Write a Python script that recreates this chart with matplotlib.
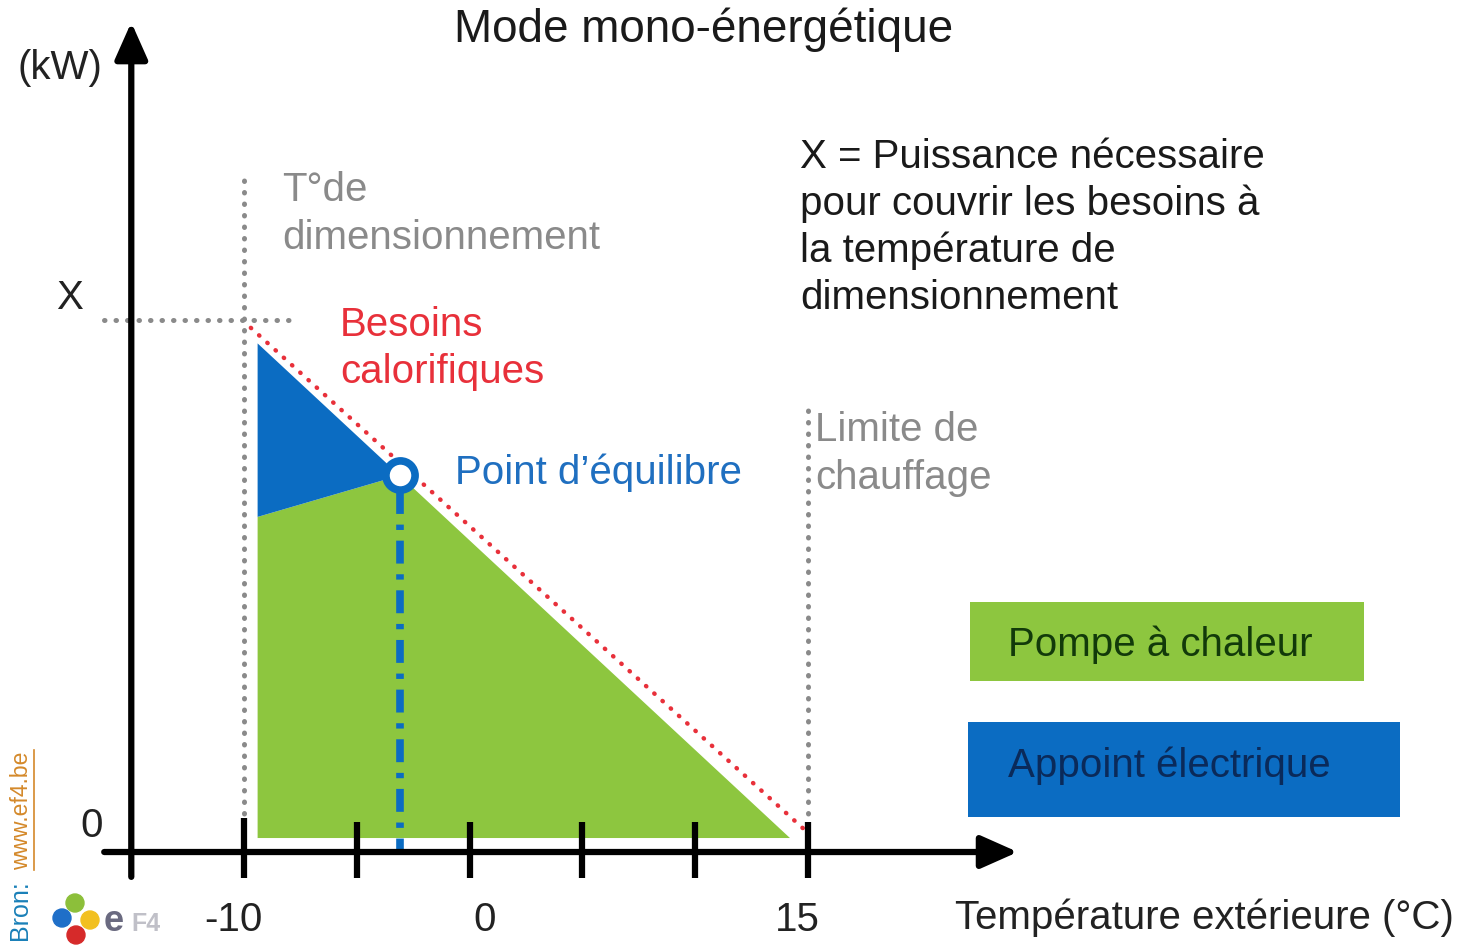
import matplotlib.pyplot as plt
from matplotlib.patches import Rectangle, Circle
from matplotlib.lines import Line2D

# Data (temperature in °C, power in arbitrary kW units, X = 10)
ticks_T = [-10, -5, 0, 5, 10, 15]
tick_labels = ["-10", "0", "15"]
demand_T = [-9.7, 15.0]
demand_kW = [9.85, 0.1]
pac_T = [-9.4, -9.4, -3.1, 14.2]
pac_kW = [0.0, 6.2, 7.0, 0.0]
appoint_T = [-9.4, -9.4, -3.1]
appoint_kW = [9.55, 6.2, 7.0]
equil_T, equil_kW = -3.1, 7.0
dim_T, limit_T, X_kW = -10, 15, 10

GREEN = '#8dc63f'
BLUE = '#0b6cc2'
RED = '#e8303a'
GRAY = '#8a8a8a'

W, H = 1464, 947
plt.rcParams['font.family'] = ['Liberation Sans', 'DejaVu Sans']
fig = plt.figure(figsize=(W / 100, H / 100), dpi=100)
ax = fig.add_axes([0, 0, 1, 1])
ax.set_xlim(-20.82, 44.08)
ax.set_ylim(-2.104, 16.18)
ax.axis('off')


def fx(x):
    return x / W


def fy(y):
    return 1 - y / H


# filled areas
ax.fill(pac_T, pac_kW, color=GREEN, lw=0, zorder=1)
ax.fill(appoint_T, appoint_kW, color=BLUE, lw=0, zorder=1)

# dotted reference lines
dots = dict(color=GRAY, lw=3.6, linestyle=(0, (0.1, 2.2)), dash_capstyle='round', zorder=2)
ax.plot([dim_T, dim_T], [-0.2, 12.9], **dots)
ax.plot([-16.2, -7.6], [X_kW, X_kW], **dots)
ax.plot([limit_T, limit_T], [-0.2, 8.3], **dots)

# heating demand
ax.plot(demand_T, demand_kW, color=RED, lw=3.2, linestyle=(0, (0.1, 2.4)),
        dash_capstyle='round', zorder=3)

# equilibrium point
ax.plot([equil_T, equil_T], [equil_kW - 0.3, -0.27], color=BLUE, lw=5.5,
        linestyle=(0, (3, 1.4, 0.7, 1.4)), zorder=3)
ax.plot([equil_T], [equil_kW], 'o', ms=21, mfc='white', mec=BLUE, mew=5.5, zorder=4)

# axes with arrows
arrow = dict(arrowstyle='-|>,head_length=0.9,head_width=0.4', mutation_scale=25,
             lw=4.5, color='black', shrinkA=0, shrinkB=0)
ax.annotate('', xy=(-15, 15.75), xytext=(-15, -0.75), arrowprops=arrow, zorder=5)
ax.annotate('', xy=(24.3, -0.27), xytext=(-16.2, -0.27), arrowprops=arrow, zorder=5)
for t in ticks_T:
    top = 0.39 if t == dim_T else 0.31
    ax.plot([t, t], [top, -0.77], color='black', lw=4.5, solid_capstyle='butt', zorder=5)

fs = 29
# axis labels
fig.text(fx(704), fy(30), "Mode mono-énergétique", fontsize=33, ha='center', va='center',
         color='#1a1a1a')
fig.text(fx(60), fy(68), "(kW)", fontsize=fs, ha='center', va='center', color='#222222')
fig.text(fx(70), fy(298), "X", fontsize=fs, ha='center', va='center', color='#222222')
fig.text(fx(92), fy(826), "0", fontsize=fs, ha='center', va='center', color='#222222')
for px, lab in zip([233, 485, 797], tick_labels):
    fig.text(fx(px), fy(920), lab, fontsize=fs, ha='center', va='center', color='#222222')
fig.text(fx(955), fy(918), "Température extérieure (°C)", fontsize=fs, ha='left',
         va='center', color='#222222')

# annotations
for i, line in enumerate(["T°de", "dimensionnement"]):
    fig.text(fx(282), fy(190 + 48 * i), line, fontsize=fs, color=GRAY, va='center')
for i, line in enumerate(["Besoins", "calorifiques"]):
    fig.text(fx(340), fy(325 + 47 * i), line, fontsize=fs, color=RED, va='center')
fig.text(fx(455), fy(473), "Point d’équilibre", fontsize=fs, color='#1f6fc0', va='center')
for i, line in enumerate(["Limite de", "chauffage"]):
    fig.text(fx(815), fy(430 + 48 * i), line, fontsize=fs, color=GRAY, va='center')
x_lines = ["X = Puissance nécessaire", "pour couvrir les besoins à",
           "la température de", "dimensionnement"]
for i, line in enumerate(x_lines):
    fig.text(fx(800), fy(157 + 47 * i), line, fontsize=fs, color='#1a1a1a', va='center')

# legend boxes
fig.add_artist(Rectangle((fx(970), fy(681)), fx(394), 79 / H, transform=fig.transFigure,
                         color=GREEN, lw=0))
fig.text(fx(1008), fy(645), "Pompe à chaleur", fontsize=fs, color='#123a0a', va='center')
fig.add_artist(Rectangle((fx(968), fy(817)), fx(432), 95 / H, transform=fig.transFigure,
                         color=BLUE, lw=0))
fig.text(fx(1008), fy(766), "Appoint électrique", fontsize=fs, color='#0a2a5a', va='center')

# source
fig.text(fx(22), fy(942), "Bron: ", fontsize=18, color='#1a80b8', rotation=90,
         ha='center', va='bottom')
fig.text(fx(22), fy(870), "www.ef4.be", fontsize=16.5, color='#d4892a', rotation=90,
         ha='center', va='bottom')
fig.add_artist(Line2D([fx(34), fx(34)], [fy(870), fy(750)], transform=fig.transFigure,
                      color='#d4892a', lw=1.2))

# logo
for (cx, cy, c) in [(75, 903, '#8cbf3a'), (62, 918, '#1f6fc8'), (90, 920, '#f2c020'),
                    (76, 935, '#d62a2a')]:
    fig.add_artist(Circle((cx, H - cy), 9, transform=None, color=c))
fig.text(fx(104), fy(921), "e", fontsize=26, fontweight='bold', color='#6a6a80', va='center')
fig.text(fx(131), fy(924), "F4", fontsize=18, fontweight='bold', color='#c0c0c8', va='center')

fig.savefig('out.png', dpi=100)
